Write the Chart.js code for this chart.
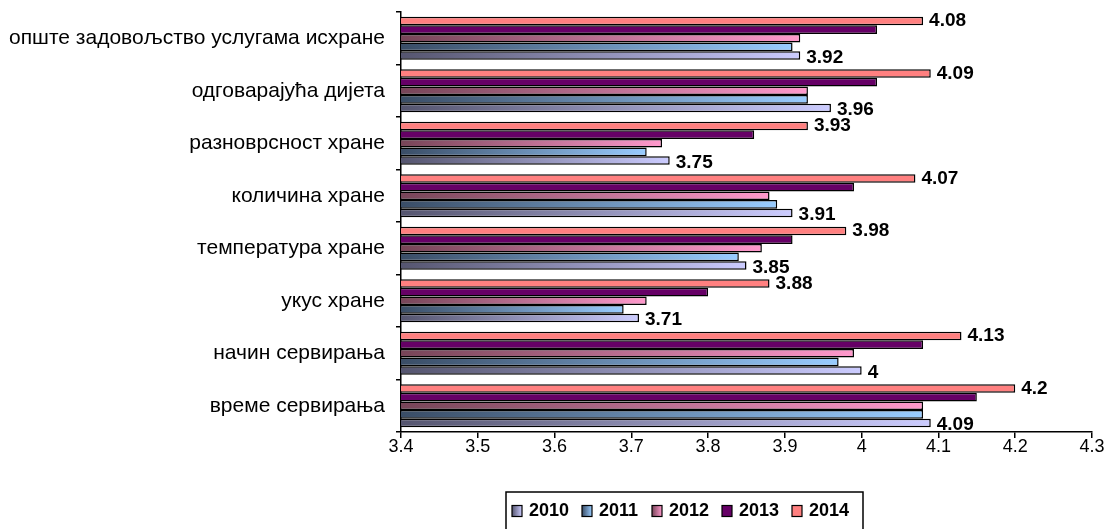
<!DOCTYPE html>
<html>
<head>
<meta charset="utf-8">
<script src="https://cdn.jsdelivr.net/npm/chart.js@4/dist/chart.umd.min.js"></script>
<style>
  html, body { margin: 0; padding: 0; background: #fff; }
  #wrap { position: relative; width: 1116px; height: 529px; }
</style>
</head>
<body>
<div id="wrap"><canvas id="foodChart"></canvas></div>
<script>
(function() {
  var ctx = document.getElementById('foodChart');
  var fontFamily = '"Liberation Sans", Arial, sans-serif';

  /* categories, top to bottom */
  var categories = [
    'опште задовољство услугама исхране',
    'одговарајућа дијета',
    'разноврсност хране',
    'количина хране',
    'температура хране',
    'укус хране',
    'начин сервирања',
    'време сервирања'
  ];

  /* survey scores per year */
  var values2010 = [3.92, 3.96, 3.75, 3.91, 3.85, 3.71, 4.00, 4.09];
  var values2011 = [3.91, 3.93, 3.72, 3.89, 3.84, 3.69, 3.97, 4.08];
  var values2012 = [3.92, 3.93, 3.74, 3.88, 3.87, 3.72, 3.99, 4.08];
  var values2013 = [4.02, 4.02, 3.86, 3.99, 3.91, 3.80, 4.08, 4.15];
  var values2014 = [4.08, 4.09, 3.93, 4.07, 3.98, 3.88, 4.13, 4.20];

  var yearLabels = ['2010', '2011', '2012', '2013', '2014'];
  var xTicks = [3.4, 3.5, 3.6, 3.7, 3.8, 3.9, 4.0, 4.1, 4.2, 4.3];

  /* dark -> light colour pairs (solid years use the same colour twice) */
  var shades = {
    '2010': ['#55556f', '#ccccff'],
    '2011': ['#3a4d66', '#99ccff'],
    '2012': ['#774558', '#ff99cc'],
    '2013': ['#660066', '#660066'],
    '2014': ['#ff8080', '#ff8080']
  };

  function barFill(year) {
    return function(c) {
      var chart = c.chart;
      var area = chart.chartArea;
      var pair = shades[year];
      if (!area || pair[0] === pair[1] || !chart.scales.x) return pair[1];
      var end = chart.scales.x.getPixelForValue(c.raw);
      if (!isFinite(end) || end <= area.left + 1) return pair[1];
      var g = chart.ctx.createLinearGradient(area.left, 0, end, 0);
      g.addColorStop(0, pair[0]);
      g.addColorStop(1, pair[1]);
      return g;
    };
  }

  function makeSet(year, data) {
    return {
      label: year,
      data: data,
      backgroundColor: barFill(year),
      borderColor: '#000',
      borderWidth: 1.5,
      borderSkipped: 'left',
      categoryPercentage: 0.82,
      barPercentage: 1.0
    };
  }

  /* 2014 first so it sits on top of each group */
  var datasets = [
    makeSet('2014', values2014),
    makeSet('2013', values2013),
    makeSet('2012', values2012),
    makeSet('2011', values2011),
    makeSet('2010', values2010)
  ];

  new Chart(ctx, {
    type: 'bar',
    data: { labels: categories, datasets: datasets },
    options: {
      indexAxis: 'y',
      responsive: true,
      maintainAspectRatio: false,
      animation: false,
      layout: { padding: { top: 12, right: 24, bottom: 0, left: 0 } },
      plugins: {
        legend: { display: false },
        tooltip: { enabled: false }
      },
      scales: {
        x: {
          type: 'linear',
          min: 3.4,
          max: 4.3,
          border: { display: true, color: '#000', width: 1.5 },
          grid: { drawOnChartArea: false, drawTicks: true, tickLength: 6, color: '#000', lineWidth: 1.5 },
          afterBuildTicks: function(axis) {
            axis.ticks = xTicks.map(function(v) { return { value: v }; });
          },
          ticks: {
            autoSkip: false,
            maxRotation: 0,
            padding: -2,
            color: '#000',
            font: { size: 18, family: fontFamily },
            callback: function(value) { return String(parseFloat(value.toFixed(1))); }
          },
          afterFit: function(scale) {
            scale.height = 97;
            scale.paddingLeft = 0;
            scale.paddingRight = 0;
          }
        },
        y: {
          type: 'category',
          border: { display: true, color: '#000', width: 1.5 },
          grid: { offset: true, drawOnChartArea: false, drawTicks: true, tickLength: 5, color: '#000', lineWidth: 1.5 },
          ticks: {
            padding: 11,
            color: '#000',
            font: { size: 21, family: fontFamily }
          },
          afterFit: function(scale) {
            scale.width = 401;
            scale.paddingTop = 0;
            scale.paddingBottom = 0;
          }
        }
      }
    },
    plugins: [{
      id: 'valueLabels',
      afterDatasetsDraw: function(chart) {
        var c = chart.ctx;
        c.save();
        c.font = 'bold 19px ' + fontFamily;
        c.fillStyle = '#000';
        c.textAlign = 'left';
        c.textBaseline = 'middle';
        chart.data.datasets.forEach(function(ds, di) {
          if (ds.label !== '2014' && ds.label !== '2010') return;
          var meta = chart.getDatasetMeta(di);
          meta.data.forEach(function(bar, i) {
            var dy = ds.label === '2010' ? 2 : 0;
            c.fillText(String(ds.data[i]), bar.x + 6, bar.y + dy);
          });
        });
        c.restore();
      }
    }, {
      id: 'boxLegend',
      afterDraw: function(chart) {
        var c = chart.ctx;
        var left = 506, top = 492, right = 863;
        c.save();
        c.strokeStyle = '#000';
        c.lineWidth = 1.5;
        c.beginPath();
        c.moveTo(left, chart.height + 2);
        c.lineTo(left, top);
        c.lineTo(right, top);
        c.lineTo(right, chart.height + 2);
        c.stroke();

        c.font = 'bold 18px ' + fontFamily;
        c.textBaseline = 'middle';
        c.fillStyle = '#000';
        var x = 512;
        var y = 511;
        yearLabels.forEach(function(year) {
          var pair = shades[year];
          var g = c.createLinearGradient(x, 0, x + 10, 0);
          g.addColorStop(0, pair[0]);
          g.addColorStop(1, pair[1]);
          c.fillStyle = g;
          c.fillRect(x, y - 5.5, 10, 11);
          c.lineWidth = 1.2;
          c.strokeRect(x, y - 5.5, 10, 11);
          c.fillStyle = '#000';
          c.fillText(year, x + 17, y);
          x += 70;
        });
        c.restore();
      }
    }]
  });
})();
</script>
</body>
</html>
